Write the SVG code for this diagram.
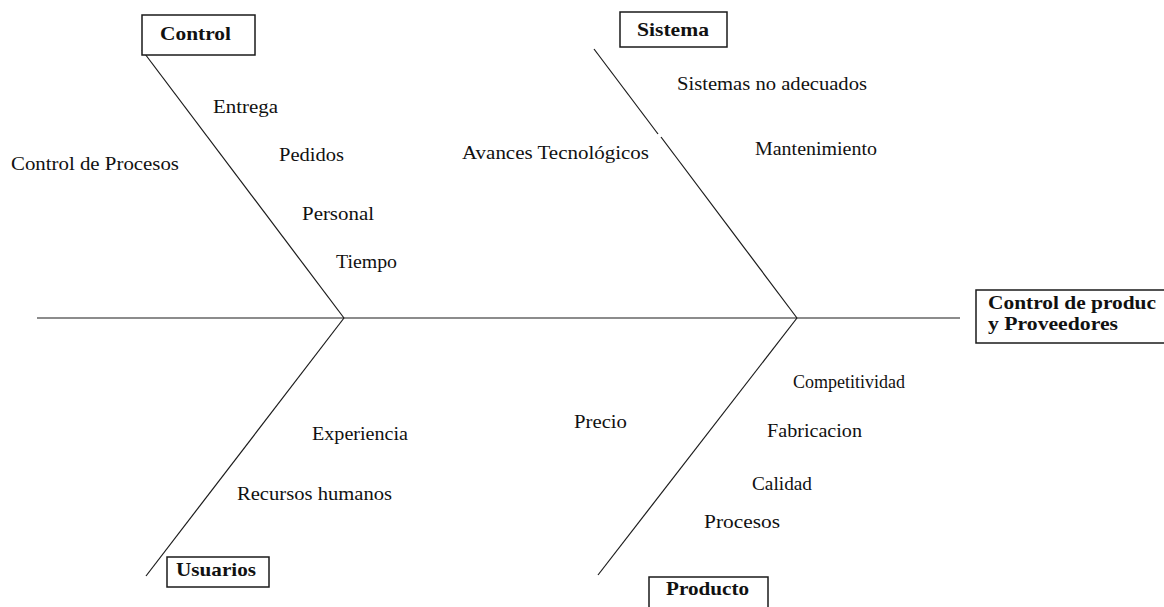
<svg xmlns="http://www.w3.org/2000/svg" width="1164" height="607" viewBox="0 0 1164 607">
<style>
.bg{fill:#ffffff}
.ln{stroke:#1a1a1a;stroke-width:1.2;fill:none}
.box{fill:#ffffff;stroke:#1a1a1a;stroke-width:1.5}
.t{font-family:"Liberation Serif","Times New Roman",serif;font-size:19px;fill:#111}
.b{font-family:"Liberation Serif","Times New Roman",serif;font-size:19px;font-weight:bold;fill:#111}
</style>
<rect class="bg" x="0" y="0" width="1164" height="607"/>
<g id="connectors">
<line class="ln" x1="37" y1="318" x2="960" y2="318"/>
<line class="ln" x1="142" y1="50" x2="344" y2="318"/>
<line class="ln" x1="344" y1="318" x2="146" y2="576"/>
<line class="ln" x1="594" y1="49" x2="658" y2="134"/>
<line class="ln" x1="661" y1="137" x2="797" y2="318"/>
<line class="ln" x1="797" y1="318" x2="598" y2="575"/>
</g>
<g id="node-control">
<rect class="box" x="142" y="15" width="113" height="40"/>
<text class="b" x="160" y="40" textLength="71" lengthAdjust="spacingAndGlyphs">Control</text>
</g>
<g id="node-sistema">
<rect class="box" x="620" y="12" width="107" height="35"/>
<text class="b" x="637" y="36" textLength="72" lengthAdjust="spacingAndGlyphs">Sistema</text>
</g>
<g id="node-efecto">
<rect class="box" x="976" y="290" width="200" height="53"/>
<text class="b" x="988" y="309" textLength="168" lengthAdjust="spacingAndGlyphs">Control de produc</text>
<text class="b" x="988" y="330" textLength="130" lengthAdjust="spacingAndGlyphs">y Proveedores</text>
</g>
<g id="node-usuarios">
<rect class="box" x="167" y="557" width="102" height="30"/>
<text class="b" x="176" y="576" textLength="80" lengthAdjust="spacingAndGlyphs">Usuarios</text>
</g>
<g id="node-producto">
<rect class="box" x="649" y="577" width="119" height="40"/>
<text class="b" x="666" y="595" textLength="83" lengthAdjust="spacingAndGlyphs">Producto</text>
</g>
<g id="causes-control">
<text class="t" x="213" y="113" textLength="65" lengthAdjust="spacingAndGlyphs">Entrega</text>
<text class="t" x="279" y="161" textLength="65" lengthAdjust="spacingAndGlyphs">Pedidos</text>
<text class="t" x="11" y="170" textLength="168" lengthAdjust="spacingAndGlyphs">Control de Procesos</text>
<text class="t" x="302" y="220" textLength="72" lengthAdjust="spacingAndGlyphs">Personal</text>
<text class="t" x="336" y="268" textLength="61" lengthAdjust="spacingAndGlyphs">Tiempo</text>
</g>
<g id="causes-sistema">
<text class="t" x="677" y="90" textLength="190" lengthAdjust="spacingAndGlyphs">Sistemas no adecuados</text>
<text class="t" x="462" y="159" textLength="187" lengthAdjust="spacingAndGlyphs">Avances Tecnológicos</text>
<text class="t" x="755" y="155" textLength="122" lengthAdjust="spacingAndGlyphs">Mantenimiento</text>
</g>
<g id="causes-usuarios">
<text class="t" x="312" y="440" textLength="96" lengthAdjust="spacingAndGlyphs">Experiencia</text>
<text class="t" x="237" y="500" textLength="155" lengthAdjust="spacingAndGlyphs">Recursos humanos</text>
</g>
<g id="causes-producto">
<text class="t" x="793" y="388" style="font-size:18.5px" textLength="112" lengthAdjust="spacingAndGlyphs">Competitividad</text>
<text class="t" x="574" y="428" textLength="53" lengthAdjust="spacingAndGlyphs">Precio</text>
<text class="t" x="767" y="437" textLength="95" lengthAdjust="spacingAndGlyphs">Fabricacion</text>
<text class="t" x="752" y="490" textLength="60" lengthAdjust="spacingAndGlyphs">Calidad</text>
<text class="t" x="704" y="528" textLength="76" lengthAdjust="spacingAndGlyphs">Procesos</text>
</g>
</svg>
